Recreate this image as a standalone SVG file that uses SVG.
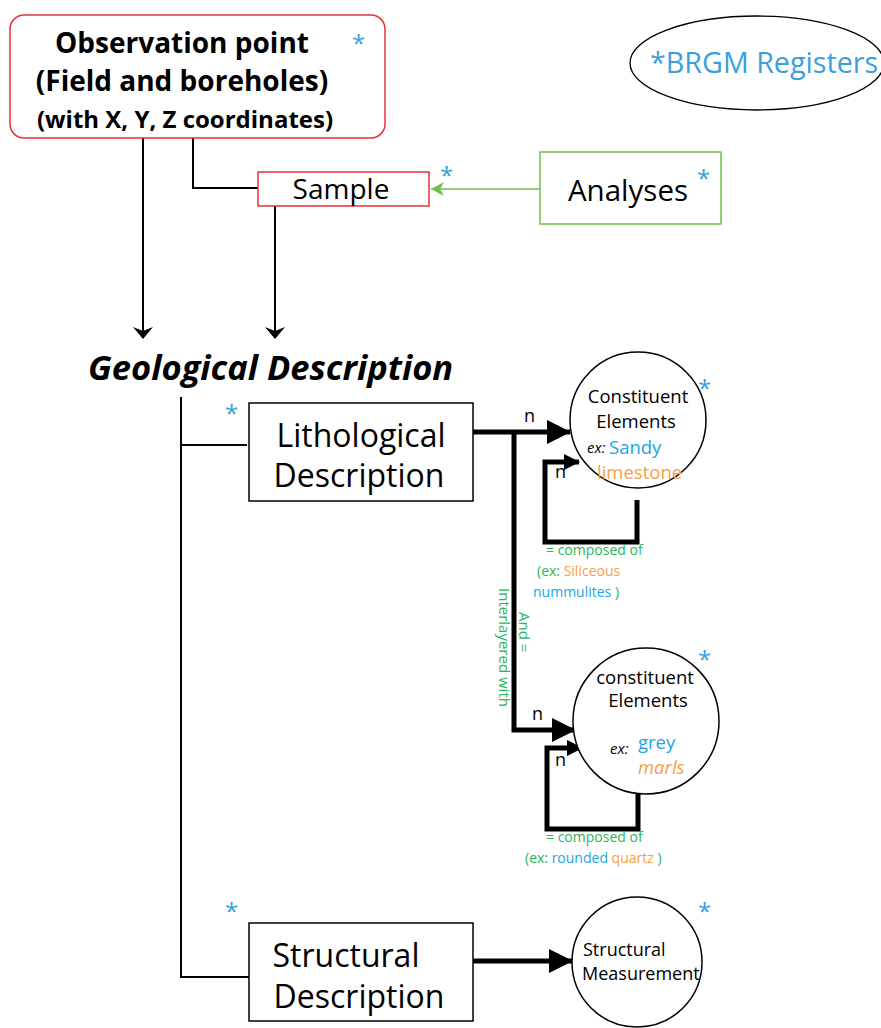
<svg xmlns="http://www.w3.org/2000/svg" width="881" height="1028" viewBox="0 0 881 1028">
<style>
text{font-family:"Open Sans","Noto Sans",sans-serif;fill:#000}
.ast{fill:#3aa0dc;font-size:24px}
.blue{fill:#1aa6e6}
.orange{fill:#f7a045}
.green{fill:#2bb55a}
.thin{stroke:#000;stroke-width:2;fill:none}
.thick{stroke:#000;stroke-width:5;fill:none}
.box{fill:#fff;stroke:#000;stroke-width:1.5}
.circ{fill:#fff;stroke:#000;stroke-width:1.5}
.sm{font-size:14px}
</style>
<defs>
<marker id="ah" markerWidth="12" markerHeight="20" refX="11" refY="10" orient="auto" markerUnits="userSpaceOnUse"><path d="M0,0 L12,10 L0,20 L4,10 Z" fill="#000"/></marker>
<marker id="ahb" markerWidth="24" markerHeight="24" refX="23" refY="12" orient="auto" markerUnits="userSpaceOnUse"><path d="M0,0 L24,12 L0,24 Z" fill="#000"/></marker>
<marker id="ahs" markerWidth="16" markerHeight="16" refX="15" refY="8" orient="auto" markerUnits="userSpaceOnUse"><path d="M0,0 L16,8 L0,16 Z" fill="#000"/></marker>
<marker id="ahg" markerWidth="14" markerHeight="14" refX="13" refY="7" orient="auto" markerUnits="userSpaceOnUse"><path d="M0,0 L13,7 L0,14 L4,7 Z" fill="#6cc04a"/></marker>
</defs>

<g id="connectors">
<path class="thin" d="M143,138 V338" marker-end="url(#ah)"/>
<path class="thin" d="M193,138 V188 H258"/>
<path class="thin" d="M275,206 V338" marker-end="url(#ah)"/>
<path d="M540,189 H431" stroke="#6cc04a" stroke-width="1.5" fill="none" marker-end="url(#ahg)"/>
<path class="thin" d="M181,397 V977 H249"/>
<path class="thin" d="M181,445 H247"/>
<path class="thick" d="M473,432 H570" marker-end="url(#ahb)"/>
<path class="thick" d="M514,432 V730 H575" marker-end="url(#ahb)"/>
<path class="thick" d="M637,500 V542 H545 V462 H579" marker-end="url(#ahs)"/>
<path class="thick" d="M638,792 V829 H547 V748 H582" marker-end="url(#ahs)"/>
<path class="thick" d="M473,961 H572" marker-end="url(#ahb)"/>
<text x="524" y="422" font-size="18">n</text>
<text x="532" y="720" font-size="18">n</text>
<text x="555" y="478" font-size="18">n</text>
<text x="555" y="766" font-size="18">n</text>
<text class="green" font-size="15" transform="translate(519,612) rotate(90)">And =</text>
<text class="green" font-size="15" transform="translate(499,588) rotate(90)">Interlayered with</text>
<text class="green sm" x="546" y="555">= composed of</text>
<text class="sm" x="537" y="576"><tspan class="green">(ex: </tspan><tspan class="orange">Siliceous</tspan></text>
<text class="sm" x="533" y="597"><tspan class="blue">nummulites </tspan><tspan class="green">)</tspan></text>
<text class="green sm" x="546" y="842">= composed of</text>
<text class="sm" x="525" y="863"><tspan class="green">(ex: </tspan><tspan class="blue">rounded </tspan><tspan class="orange">quartz </tspan><tspan class="green">)</tspan></text>
</g>

<g id="observation">
<rect x="10" y="15" width="375" height="123" rx="14" fill="#fff" stroke="#e8303a" stroke-width="1.5"/>
<text x="182" y="53" font-size="28" font-weight="bold" text-anchor="middle">Observation point</text>
<text x="182" y="91" font-size="28" font-weight="bold" text-anchor="middle">(Field and boreholes)</text>
<text x="185" y="128" font-size="24" font-weight="bold" text-anchor="middle">(with X, Y, Z coordinates)</text>
<text class="ast" x="352" y="52">*</text>
</g>

<g id="sample">
<rect x="258" y="172" width="171" height="34" fill="#fff" stroke="#e8303a" stroke-width="1.5"/>
<text x="341" y="199" font-size="28" text-anchor="middle">Sample</text>
<text class="ast" x="440" y="184">*</text>
</g>

<g id="analyses">
<rect x="540" y="152" width="181" height="72" fill="#fff" stroke="#6cc04a" stroke-width="1.5"/>
<text x="628" y="201" font-size="29.5" text-anchor="middle">Analyses</text>
<text class="ast" x="697" y="187">*</text>
</g>

<g id="brgm">
<ellipse cx="757" cy="63" rx="127" ry="47" fill="#fff" stroke="#000" stroke-width="1.3"/>
<text x="650" y="73" font-size="28.7" style="fill:#3aa0dc">*BRGM Registers</text>
</g>

<g id="geological">
<text x="88" y="380" font-size="34.5" font-weight="bold" font-style="italic">Geological Description</text>
</g>

<g id="lithological">
<rect x="249" y="403" width="224" height="98" class="box"/>
<text x="361" y="447" font-size="32" text-anchor="middle">Lithological</text>
<text x="359" y="487" font-size="32" text-anchor="middle">Description</text>
<text class="ast" x="225" y="422">*</text>
</g>

<g id="constituent1">
<circle cx="638" cy="420" r="68" class="circ"/>
<text x="638" y="403" font-size="18.5" text-anchor="middle">Constituent</text>
<text x="636" y="428" font-size="18.5" text-anchor="middle">Elements</text>
<text x="587" y="453" font-size="15" font-style="italic">ex:</text>
<text class="blue" x="609" y="454" font-size="18.5">Sandy</text>
<text class="orange" x="597" y="479" font-size="18.5">limestone</text>
<text class="ast" x="698" y="397">*</text>
</g>

<g id="constituent2">
<circle cx="646" cy="721" r="73" class="circ"/>
<text x="645" y="684" font-size="18.5" text-anchor="middle">constituent</text>
<text x="648" y="707" font-size="18.5" text-anchor="middle">Elements</text>
<text x="610" y="754" font-size="15" font-style="italic">ex:</text>
<text class="blue" x="638" y="749" font-size="18.5">grey</text>
<text class="orange" x="638" y="774" font-size="18.5" font-style="italic">marls</text>
<text class="ast" x="698" y="668">*</text>
</g>

<g id="structural">
<rect x="249" y="923" width="224" height="98" class="box"/>
<text x="346" y="967" font-size="32" text-anchor="middle">Structural</text>
<text x="359" y="1008" font-size="32" text-anchor="middle">Description</text>
<text class="ast" x="225" y="920">*</text>
</g>

<g id="measurement">
<circle cx="637" cy="962" r="65" class="circ"/>
<text x="583" y="956" font-size="18">Structural</text>
<text x="582" y="980" font-size="18">Measurement</text>
<text class="ast" x="698" y="920">*</text>
</g>
</svg>
